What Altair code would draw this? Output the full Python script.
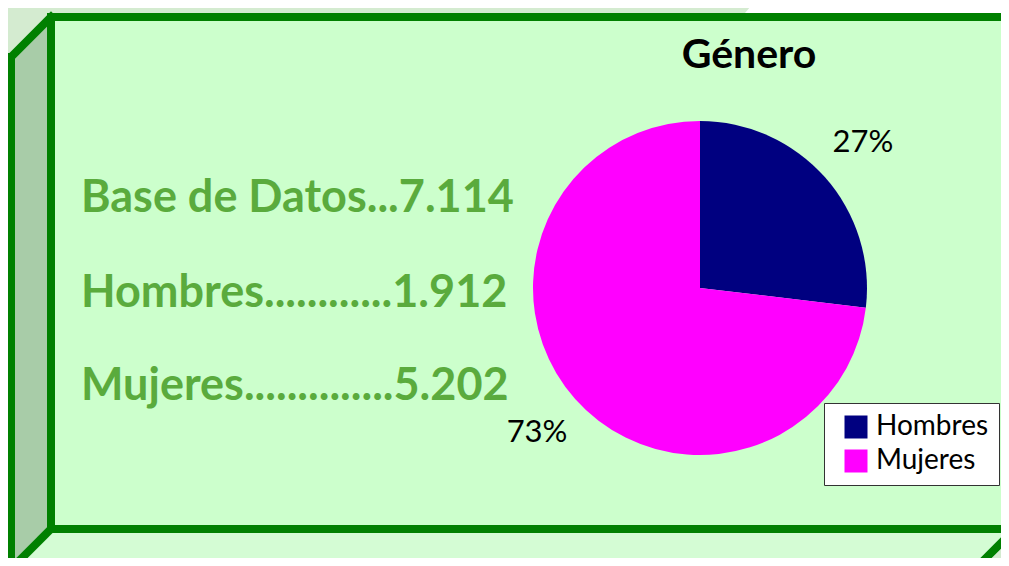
import altair as alt
import pandas as pd

# ---------------- data ----------------
categories = ["Hombres", "Mujeres"]
counts = [1912, 5202]
total = 7114
slice_colors = ["#000080", "#ff00ff"]
title_text = "Género"
summary_labels = ["Base de Datos", "Hombres", "Mujeres"]
summary_values = [7114, 1912, 5202]
summary_dots = [3, 12, 14]


def fmt(n):
    return f"{n:,}".replace(",", ".")


summary_lines = [f"{l}{'.' * d}{fmt(v)}" for l, d, v in zip(summary_labels, summary_dots, summary_values)]

# ---------------- layout (screen pixels, page margin 8) ----------------
W, H = 993, 550
OX, OY = 8, 8
GREEN = "#008000"

xs = alt.Scale(domain=[OX, OX + W], nice=False, zero=False)
ys = alt.Scale(domain=[OY, OY + H], nice=False, zero=False, reverse=True)


def X(f):
    return alt.X(f, type="quantitative", scale=xs, axis=None)


def Y(f):
    return alt.Y(f, type="quantitative", scale=ys, axis=None)


# decorative frame geometry
top_white = pd.DataFrame({"y": [0, 13], "x": [756, 745], "x2": [1030, 1030]})
side = pd.DataFrame({"x": [11, 51], "y": [57, 17], "y2": [569, 529]})
floor = pd.DataFrame({"y": [529, 569], "x": [51, 11], "x2": [1013, 973]})
face = pd.DataFrame({"x": [51], "x2": [1013], "y": [17], "y2": [529]})
segs = pd.DataFrame({
    "x": [11, 11, 51, 1013],
    "y": [57, 57, 529, 531],
    "x2": [11, 51, 11, 975],
    "y2": [569, 17, 569, 569],
})

l_white = alt.Chart(top_white).mark_area(orient="horizontal", color="white").encode(
    y=Y("y"), x=X("x"), x2="x2")
l_side = alt.Chart(side).mark_area(orient="vertical", color="#a8cca8").encode(
    x=X("x"), y=Y("y"), y2="y2")
l_floor = alt.Chart(floor).mark_area(orient="horizontal", color="#d4fcd4").encode(
    y=Y("y"), x=X("x"), x2="x2")
l_face = alt.Chart(face).mark_rect(fill="#ccffcc", stroke=GREEN, strokeWidth=8).encode(
    x=X("x"), x2="x2", y=Y("y"), y2="y2")
l_segs = alt.Chart(segs).mark_rule(color=GREEN, strokeWidth=8, strokeCap="square").encode(
    x=X("x"), y=Y("y"), x2="x2", y2="y2")

# title
l_title = alt.Chart(pd.DataFrame({"t": [title_text]})).mark_text(
    font="Lato", fontSize=41, fontWeight="bold", color="black", align="center", baseline="alphabetic"
).encode(text="t:N", x=alt.value(749 - OX), y=alt.value(68 - OY))

# summary lines
baselines = [212, 307, 400]
l_summary = [
    alt.Chart(pd.DataFrame({"t": [line]})).mark_text(
        font="Lato", fontSize=45, fontWeight="bold", color="#5aab3d", align="left", baseline="alphabetic"
    ).encode(text="t:N", x=alt.value(81 - OX), y=alt.value(b - OY))
    for line, b in zip(summary_lines, baselines)
]

# pie
pie_df = pd.DataFrame({"cat": categories, "count": counts})
cx, cy, r = 700 - OX, 288 - OY, 167

color = alt.Color(
    "cat:N",
    scale=alt.Scale(domain=categories, range=slice_colors),
    legend=alt.Legend(
        orient="none", legendX=816, legendY=395, title=None,
        fillColor="white", strokeColor="#333333", padding=10,
        symbolType="square", symbolSize=529, symbolStrokeWidth=0, symbolOpacity=1,
        symbolOffset=8,
        labelFont="Lato", labelFontSize=28, labelColor="black", labelOffset=6,
        rowPadding=6,
    ),
)

l_pie = alt.Chart(pie_df).mark_arc(radius=r).encode(
    theta=alt.Theta("count:Q", stack=True),
    color=color,
    x=alt.value(cx), y=alt.value(cy),
)

l_lab = alt.Chart(pie_df).transform_calculate(
    pct=f"format(datum.count / {total}, '.0%')"
).mark_text(radius=218, font="Lato", fontSize=31, color="black", align="center", baseline="middle").encode(
    theta=alt.Theta("count:Q", stack=True),
    detail="cat:N",
    text="pct:N",
    x=alt.value(cx), y=alt.value(cy),
)

chart = alt.layer(
    l_white, l_side, l_floor, l_face, l_segs, l_title, *l_summary, l_pie, l_lab
).properties(
    width=W, height=H, padding=0, autosize=alt.AutoSizeParams(type="none"), background="#d4ebd0"
).configure_view(stroke=None)

chart.save("out.html", embed_options={"renderer": "svg", "actions": False})
